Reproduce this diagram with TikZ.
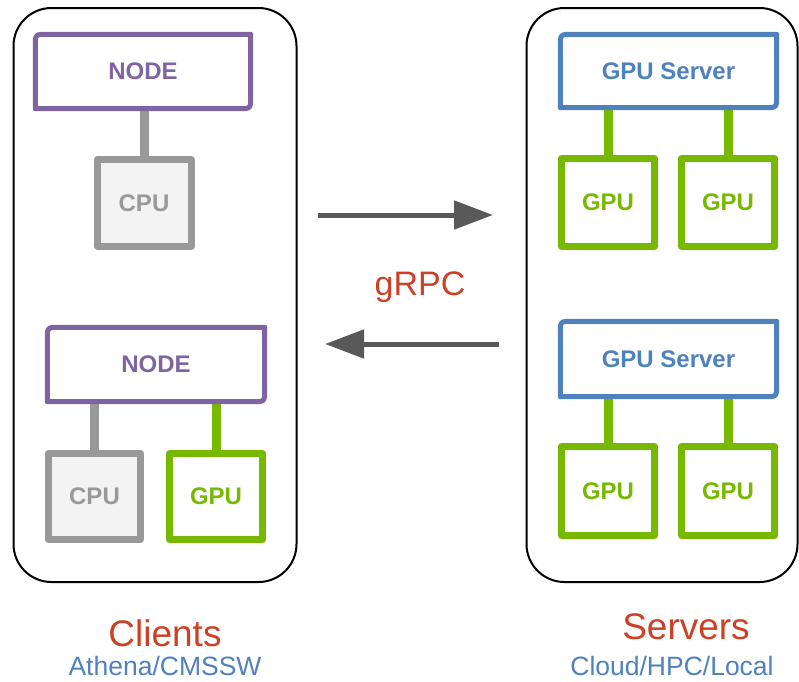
\documentclass[tikz,border=0pt]{standalone}
\usepackage{fontspec}
\setmainfont{Liberation Sans}
\usetikzlibrary{arrows.meta,calc}
\definecolor{cpurple}{HTML}{8064A2}
\definecolor{cblue}{HTML}{4F81BD}
\definecolor{cgreen}{HTML}{76B900}
\definecolor{cgray}{HTML}{999999}
\definecolor{cfill}{HTML}{F3F3F3}
\definecolor{carrow}{HTML}{595959}
\definecolor{cred}{HTML}{CC4125}
\newcommand\diagbox[2]{%
  \draw[#2, line width=5pt, line join=round]
    ($(#1.north west)+(0,12)$) .. controls (#1.north west) .. ($(#1.north west)+(12,0)$)
    -- (#1.north east)
    -- ($(#1.south east)+(0,-12)$) .. controls (#1.south east) .. ($(#1.south east)+(-12,0)$)
    -- (#1.south west) -- cycle;}
\tikzset{
  outerbox/.style={draw=black, line width=2pt, rounded corners=38pt, inner sep=0pt},
  hostbox/.style={inner sep=0pt, font=\bfseries\fontsize{24}{28}\selectfont},
  cpubox/.style={draw=cgray, fill=cfill, line width=7pt, line join=round, inner sep=0pt,
    text=cgray, font=\bfseries\fontsize{24}{28}\selectfont},
  gpubox/.style={draw=cgreen, fill=white, line width=7pt, line join=round, inner sep=0pt,
    text=cgreen, font=\bfseries\fontsize{24}{28}\selectfont},
  grayconn/.style={draw=cgray, line width=9pt},
  greenconn/.style={draw=cgreen, line width=9pt},
  rpcarrow/.style={draw=carrow, line width=5pt, -{Triangle[length=39pt,width=28pt]}},
  title/.style={anchor=base, text=cred, font=\fontsize{37}{40}\selectfont},
  subtitle/.style={anchor=base, text=cblue, font=\fontsize{26.5}{30}\selectfont}
}
\begin{document}
\begin{tikzpicture}[x=1pt,y=-1pt]
\useasboundingbox (0,0) rectangle (799,681);
% outer containers
\node[outerbox, minimum width=283pt, minimum height=574pt] (clients) at (155,295) {};
\node[outerbox, minimum width=271pt, minimum height=574pt] (servers) at (662,295) {};

% ---- clients ----
\node[hostbox, text=cpurple, minimum width=215pt, minimum height=74pt] (node1) at (143,71.5) {NODE};
\node[hostbox, text=cpurple, minimum width=217pt, minimum height=74pt] (node2) at (156,364.5) {NODE};
\coordinate (cpu1c) at (144,203);
\coordinate (cpu2c) at (94.5,496.5);
\coordinate (gpu2c) at (216,496.5);

% ---- servers ----
\node[hostbox, text=cblue, minimum width=216pt, minimum height=73pt] (srv1) at (668.5,71) {GPU Server};
\node[hostbox, text=cblue, minimum width=216pt, minimum height=75pt] (srv2) at (668.5,359) {GPU Server};
\coordinate (g1ac) at (608,202.5);
\coordinate (g1bc) at (728,202.5);
\coordinate (g2ac) at (608,491);
\coordinate (g2bc) at (728,491);

% connectors (drawn first, boxes cover their ends)
\draw[grayconn] (cpu1c) -- (cpu1c |- node1.south);
\draw[grayconn] (cpu2c) -- (cpu2c |- node2.south);
\draw[greenconn] (gpu2c) -- (gpu2c |- node2.south);
\draw[greenconn] (g1ac) -- (g1ac |- srv1.south);
\draw[greenconn] (g1bc) -- (g1bc |- srv1.south);
\draw[greenconn] (g2ac) -- (g2ac |- srv2.south);
\draw[greenconn] (g2bc) -- (g2bc |- srv2.south);

% child boxes
\node[cpubox, minimum width=94pt, minimum height=87pt] (cpu1) at (cpu1c) {CPU};
\node[cpubox, minimum width=92pt, minimum height=86pt] (cpu2) at (cpu2c) {CPU};
\node[gpubox, minimum width=93pt, minimum height=86pt] (gpu2) at (gpu2c) {GPU};
\node[gpubox, minimum width=93pt, minimum height=88pt] (g1a) at (g1ac) {GPU};
\node[gpubox, minimum width=93pt, minimum height=88pt] (g1b) at (g1bc) {GPU};
\node[gpubox, minimum width=93pt, minimum height=89pt] (g2a) at (g2ac) {GPU};
\node[gpubox, minimum width=93pt, minimum height=89pt] (g2b) at (g2bc) {GPU};

% host outlines
\diagbox{node1}{cpurple}
\diagbox{node2}{cpurple}
\diagbox{srv1}{cblue}
\diagbox{srv2}{cblue}

% gRPC arrows
\coordinate (a1s) at (318,215);
\coordinate (a1e) at (493,215);
\coordinate (a2s) at (499,344);
\coordinate (a2e) at (325,344);
\draw[rpcarrow] (a1s) -- (a1e);
\draw[rpcarrow] (a2s) -- (a2e);
\node[anchor=base, text=cred, font=\fontsize{34}{38}\selectfont] (grpc) at (420,295) {gRPC};

% captions
\node[title] (ct) at (165,646) {Clients};
\node[subtitle] (cs) at (165,675) {Athena/CMSSW};
\node[title] (st) at (686,639) {Servers};
\node[subtitle] (ss) at (672,675) {Cloud/HPC/Local};
\end{tikzpicture}
\end{document}
